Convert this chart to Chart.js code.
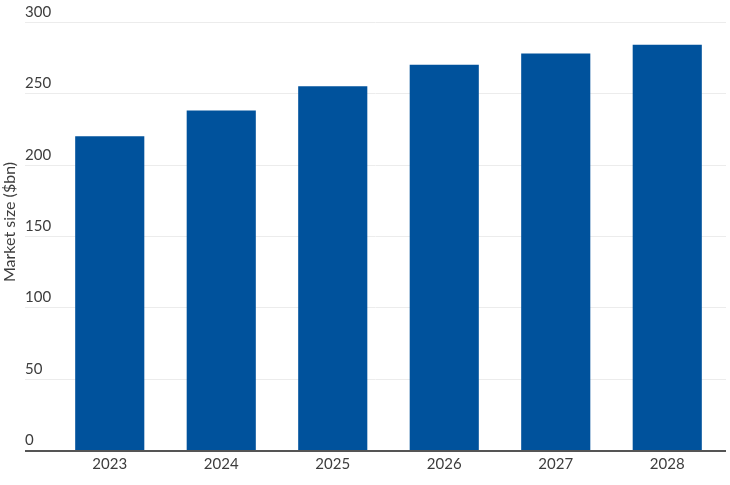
<!DOCTYPE html>
<html>
<head>
<meta charset="utf-8">
<script src="https://cdn.jsdelivr.net/npm/chart.js@4/dist/chart.umd.min.js"></script>
<style>
  html, body { margin: 0; padding: 0; background: #fff; }
  #wrap { width: 730px; height: 485px; }
</style>
</head>
<body>
<div id="wrap"><canvas id="chart"></canvas></div>
<script>
const years = ['2023', '2024', '2025', '2026', '2027', '2028']
const marketSize = [220, 238, 255, 270, 278, 284]
const yTicks = [0, 50, 100, 150, 200, 250, 300]

const barColor = '#00529c'
const gridColor = '#ececec'
const axisColor = '#555555'
const textColor = '#3d3d3d'
const fontFam = 'Lato, "Open Sans", sans-serif'

// gridlines, tick labels and axis title drawn from the chart's own scales
const decor = {
  id: 'decor',
  beforeDatasetsDraw(chart) {
    const { ctx, scales: { x, y } } = chart
    const left = 25, right = 726
    ctx.save()
    ctx.lineWidth = 1
    ctx.strokeStyle = gridColor
    yTicks.forEach(v => {
      if (v === 0) return
      const py = Math.round(y.getPixelForValue(v)) + 0.5
      ctx.beginPath()
      ctx.moveTo(left, py)
      ctx.lineTo(right, py)
      ctx.stroke()
    })
    ctx.fillStyle = textColor
    ctx.font = '15px ' + fontFam
    ctx.textAlign = 'left'
    ctx.textBaseline = 'alphabetic'
    yTicks.forEach(v => {
      ctx.fillText(String(v), left, y.getPixelForValue(v) - 5)
    })
    ctx.textAlign = 'center'
    ctx.textBaseline = 'middle'
    years.forEach((lab, i) => {
      ctx.fillText(lab, x.getPixelForValue(i), y.getPixelForValue(0) + 14)
    })
    ctx.font = '16px ' + fontFam
    ctx.translate(10, 222)
    ctx.rotate(-Math.PI / 2)
    ctx.fillText('Market size ($bn)', 0, 0)
    ctx.restore()
  },
  afterDatasetsDraw(chart) {
    const { ctx, scales: { y } } = chart
    const py = y.getPixelForValue(0)
    ctx.save()
    ctx.strokeStyle = axisColor
    ctx.lineWidth = 2
    ctx.beginPath()
    ctx.moveTo(25, py + 1)
    ctx.lineTo(726, py + 1)
    ctx.stroke()
    ctx.restore()
  }
}

new Chart(document.getElementById('chart'), {
  type: 'bar',
  data: {
    labels: years,
    datasets: [{
      label: 'Market size ($bn)',
      data: marketSize,
      backgroundColor: barColor,
      borderWidth: 0,
      categoryPercentage: 1,
      barPercentage: 0.62
    }]
  },
  options: {
    responsive: true,
    maintainAspectRatio: false,
    animation: false,
    layout: { padding: { left: 54, right: 7, top: 22, bottom: 35 } },
    scales: {
      x: { display: false },
      y: { display: false, min: 0, max: 300 }
    },
    plugins: {
      legend: { display: false },
      tooltip: { enabled: false }
    }
  },
  plugins: [decor]
})
</script>
</body>
</html>
